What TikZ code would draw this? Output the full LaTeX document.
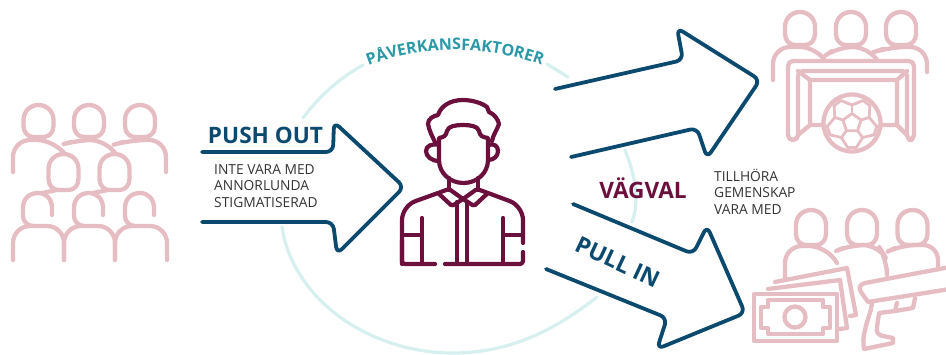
\documentclass[tikz,border=0pt]{standalone}
\usepackage{fontspec}
\setmainfont{Open Sans}
\usetikzlibrary{decorations.text}
\definecolor{pinkc}{HTML}{E6BDC3}
\definecolor{navyc}{HTML}{0B4A6E}
\definecolor{maroonc}{HTML}{6B0F3C}
\definecolor{ringc}{HTML}{D6EFEF}
\definecolor{tealc}{HTML}{2A98A6}
\definecolor{textc}{HTML}{333333}
\newcommand\headat[3]{\draw[pinkline] (#1-15,#2+15) .. controls (#1-15,#2+6) and (#1-8,#2) .. (#1,#2) .. controls (#1+8,#2) and (#1+15,#2+6) .. (#1+15,#2+15) -- (#1+15,#3-11) .. controls (#1+15,#3-4) and (#1+10,#3) .. (#1+5,#3) -- (#1-5,#3) .. controls (#1-10,#3) and (#1-15,#3-4) .. (#1-15,#3-11) -- cycle;}
\newcommand\openhead[1]{\draw[pinkline] (#1+14,215)--(#1+14,208) .. controls (#1+14,199) and (#1+8,193) .. (#1,193) .. controls (#1-9,193) and (#1-15,199) .. (#1-15,208) -- (#1-15,216) .. controls (#1-15,221) and (#1-11,226) .. (#1-5,226);}
\tikzset{
 pinkline/.style={draw=pinkc,line width=4.3pt,line cap=round,line join=round},
 pinkthin/.style={draw=pinkc,line width=2.8pt,line cap=round,line join=round},
 marline/.style={draw=maroonc,line width=4.2pt,line cap=round,line join=round},
 navyarrow/.style={draw=navyc,line width=3.8pt,line cap=round,line join=round,rounded corners=7pt},
 ringline/.style={draw=ringc,line width=3.2pt,line cap=round},
 small/.style={font=\fontsize{13.8}{16.6}\selectfont,text=textc,align=left,anchor=north west,inner sep=0pt},
 bigl/.style={font=\fontsize{22.6}{24}\selectfont\bfseries,inner sep=0pt}
}
\begin{document}
\begin{tikzpicture}[x=1pt,y=-1pt]
\clip (0,0) rectangle (946,354);
% ring
\draw[ringline] (303,118) .. controls (320,95) and (340,78) .. (363,65);
\draw[ringline] (547,64) -- (568,77);
\draw[ringline] (625,150) .. controls (635,175) and (640,200) .. (632,222);
\draw[ringline] (282,227) .. controls (293,300) and (370,353) .. (453,353) .. controls (510,353) and (555,330) .. (597,297);
\path[decorate,decoration={text along path,text align={center},text={|\fontsize{16}{18}\selectfont\bfseries\color{tealc}|PÅVERKANSFAKTORER}}] (362,68) .. controls (420,44) and (490,44) .. (548,68);
% left crowd
\headat{38.5}{105}{137}\headat{89}{105}{137}\headat{140}{105}{137}
\draw[pinkline,rounded corners=17pt] (13,172)--(13,140)--(54,140)--(64,153);
\draw[pinkline,rounded corners=15pt] (71,142)--(78,140)--(105,140)--(115,153);
\draw[pinkline,rounded corners=17pt] (123,142)--(130,140)--(166,140)--(166,172);
\headat{63.5}{154}{190}\headat{114.5}{154}{190}
\draw[pinkline] (57,190)--(42,193);
\draw[pinkline] (108,190)--(93,193);
\openhead{38}\openhead{89}\openhead{140}
\draw[pinkline,rounded corners=17pt] (13,260)--(13,226)--(64,226)--(64,260);
\draw[pinkline,rounded corners=17pt] (64,260)--(64,226)--(115,226)--(115,260);
\draw[pinkline,rounded corners=17pt] (115,260)--(115,226)--(167,226)--(167,260);
% push arrow
\draw[navyarrow] (202,152)--(333,152)--(334,122)--(404,187)--(337,254)--(333,222)--(202,222);
\node[bigl,text=navyc] (pushl) at (265.5,135) {PUSH OUT};
\node[small] (pusht) at (214,164) {INTE VARA MED\\ANNORLUNDA\\STIGMATISERAD};
% central person
\draw[marline] (435,142) .. controls (432,136) and (429,130) .. (428,124) .. controls (428,119) and (433,116) .. (438,115) .. controls (441,106) and (450,100) .. (463,100) .. controls (472,100) and (482,103) .. (487,107) -- (489,112) .. controls (494,114) and (498,119) .. (499,124) .. controls (497,130) and (493,135) .. (492,141);
\draw[marline] (439,145) .. controls (432,143) and (426,146) .. (426,151) .. controls (426,156) and (431,161) .. (439,161);
\draw[marline] (488,145) .. controls (494,143) and (498,146) .. (498,151) .. controls (498,156) and (494,160) .. (488,160);
\draw[marline] (439,138) -- (439,160) .. controls (439,173) and (450,183) .. (463.5,183) .. controls (477,183) and (488,173) .. (488,160) -- (488,138) .. controls (482,137) and (480,136) .. (479,131) .. controls (478,126) and (470,125) .. (463,125) .. controls (456,125) and (448,126) .. (447,131) .. controls (446,136) and (444,137) .. (439,138) -- cycle;
\draw[marline] (449,178)--(449,190); \draw[marline] (478,178)--(478,190);
\draw[marline,rounded corners=1.5pt] (438,193)--(449,189)--(463,199)--(452,206)--cycle;
\draw[marline,rounded corners=1.5pt] (488,193)--(477,189)--(463,199)--(474,206)--cycle;
\draw[marline,rounded corners=14pt] (438,193)--(402,206)--(402,264);
\draw[marline,rounded corners=3pt] (402,240)--(402,264)--(435,264);
\draw[marline,rounded corners=14pt] (488,193)--(523,206)--(523,243);
\draw[marline,rounded corners=3pt] (445,264)--(523,264)--(523,252);
\draw[marline] (422,218)--(422,263) (402,235)--(422,235);
\draw[marline] (503,218)--(503,263) (503,235)--(523,235);
\draw[marline] (457,202)--(457,263) (467,202)--(467,263);
% top arrow
\draw[navyarrow] (555,89)--(683,60)--(677,28)--(760,80)--(707,158)--(697,128)--(571,157);
% bottom arrow
\draw[navyarrow] (573,204)--(693,254)--(707,226)--(745,313)--(657,349)--(667,318)--(546,269);
% labels
\node[bigl,text=maroonc] (vagv) at (643,188.5) {VÄGVAL};
\node[bigl,text=navyc,rotate=-25,font=\fontsize{23}{25}\selectfont\bfseries] (pull) at (617.5,262) {PULL IN};
\node[small] (tillh) at (714,168.5) {TILLHÖRA\\GEMENSKAP\\VARA MED};
% goal group
\headat{800}{12}{45}\headat{851}{12}{45}\headat{901}{12}{45}
\draw[pinkline,rounded corners=17pt] (773,80)--(773,47)--(817,47)--(825,60);
\draw[pinkline,rounded corners=15pt] (832,51)--(838,47)--(868,47)--(877,60);
\draw[pinkline,rounded corners=17pt] (883,49)--(889,47)--(927,47)--(927,72);
\draw[pinkline,rounded corners=5pt,fill=white] (798,71)--(798,140)--(788,140)--(788,61)--(914,61)--(914,140)--(907,140)--(907,71)--cycle;
\draw[pinkline] (798,71)--(810,80)--(897,80)--(907,71);
\draw[pinkline] (810,80)--(810,125)--(798,135) (897,80)--(897,125)--(907,135) (810,125)--(897,125);
\begin{scope}[shift={(852,123)},y=1pt]
\draw[pinkline,fill=white] (0,0) circle (28.5pt);
\draw[pinkthin] (90:9.5pt)--(162:9.5pt)--(234:9.5pt)--(306:9.5pt)--(18:9.5pt)--cycle;
\foreach \a in {90,162,234,306,18}{
 \draw[pinkthin] (\a:9.5pt)--(\a:18pt);
 \draw[pinkthin] (\a-26:25pt)--(\a:18pt)--(\a+26:25pt);
 \draw[pinkthin] (\a+26:25pt)--(\a+46:25pt);
}
\end{scope}
% money group
\headat{811}{210}{245}\headat{862}{210}{245}\headat{912.5}{210}{245}
\draw[pinkline,rounded corners=17pt] (785,278)--(785,246)--(826,246)--(837,263);
\draw[pinkline,rounded corners=15pt] (843,248)--(850,245)--(878,245)--(887,260)--(887,269);
\draw[pinkline,rounded corners=15pt] (895,248)--(901,245)--(938,245)--(938,268);
\draw[pinkline] (775,282)--(847,268)--(856,315)--(850,316);
\draw[pinkline] (768,289)--(840,280)--(847,328)--(840,329);
\draw[pinkline,fill=white] (754,294) rectangle (837,341);
\draw[pinkline] (768,300)--(823,300)--(823,307)--(830,307)--(830,328)--(823,328)--(823,334)--(768,334)--(768,328)--(761,328)--(761,307)--(768,307)--cycle;
\draw[pinkline] (795,317) circle (10.5pt);
% gun
\draw[pinkline,fill=white] (950,267)--(865,283) .. controls (860,284) and (858,288) .. (861,292) -- (868,302) -- (950,289);
\draw[pinkline] (872,303) .. controls (871,312) and (867,320) .. (865,330) .. controls (863,337) and (863,343) .. (864,349) -- (893,343) -- (893,338) -- (883,336) .. controls (878,335) and (876,332) .. (877,327) -- (879,313) -- (895,311) -- (897,303);
\draw[pinkline] (895,311)--(913,308)--(915,298);
\end{tikzpicture}
\end{document}
